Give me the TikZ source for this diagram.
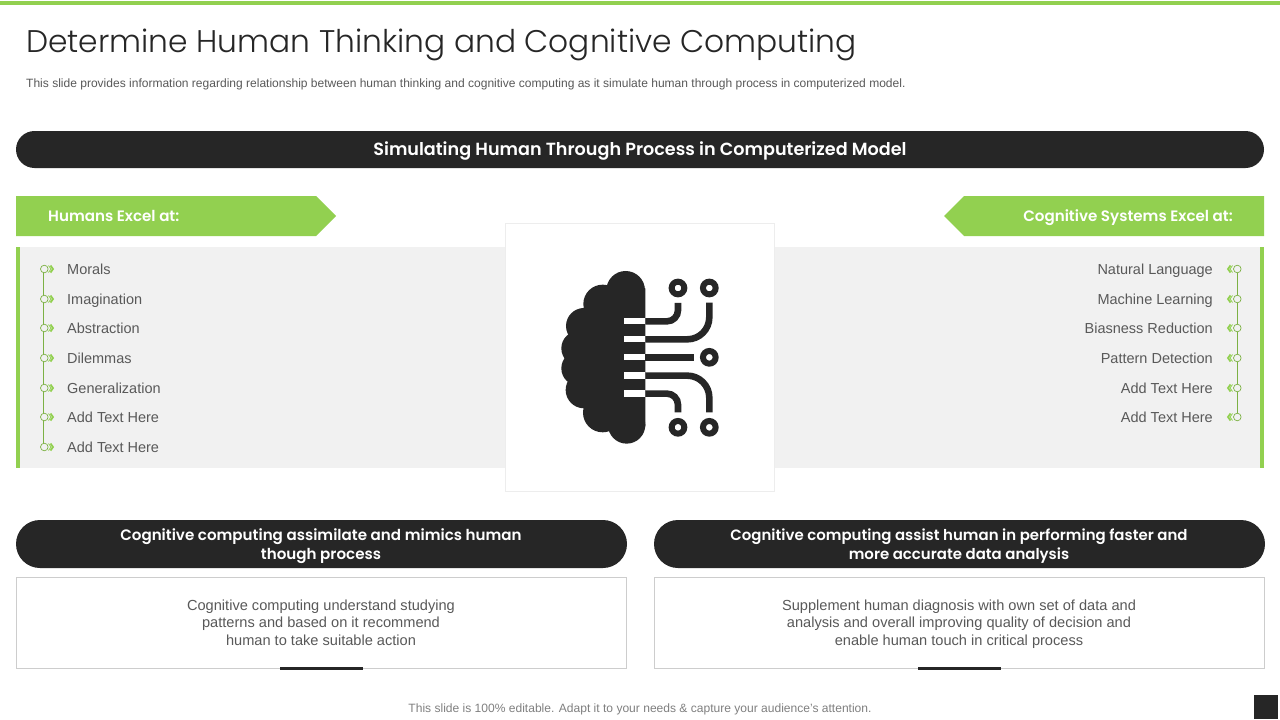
\documentclass[tikz,border=0pt]{standalone}
\usepackage{fontspec}
\setmainfont{Liberation Sans}
\newfontfamily\titlefont{Poppins Light}
\newfontfamily\headfont{Poppins SemiBold}
\definecolor{leaf}{RGB}{146,208,80}
\definecolor{ink}{RGB}{38,38,38}
\definecolor{panel}{RGB}{241,241,241}
\definecolor{body}{RGB}{89,89,89}
\definecolor{edge}{RGB}{205,205,205}
\definecolor{foot}{RGB}{128,128,128}
\newcommand{\ls}{\rule[-4pt]{0pt}{14pt}}
\tikzset{
  pill/.style={fill=ink,rounded corners=#1},
  headtext/.style={text=white,font=\headfont\fontsize{15.1}{19.4}\selectfont,align=center,inner sep=0pt},
  itemtext/.style={text=body,font=\fontsize{14.5}{17}\selectfont,inner sep=0pt},
  bodytext/.style={text=body,font=\fontsize{14.6}{17.7}\selectfont,align=center,inner sep=0pt},
  wire/.style={draw=ink,line width=6.6pt,rounded corners=11pt},
  pad/.style={draw=ink,line width=6pt,fill=white},
  spine/.style={draw=leaf!85!black,line width=0.8pt},
  dot/.style={draw=leaf!85!black,line width=0.7pt,fill=panel},
  chev/.style={draw=leaf,line width=#1,line cap=butt},
}
\newcommand{\rowL}[2]{%
  \draw[dot] (44.3,#1) circle (3.8);
  \draw[chev=0.8pt] (48.5,#1-3.5) -- (51,#1) -- (48.5,#1+3.5);
  \draw[chev=1.8pt] (50.5,#1-3.5) -- (53,#1) -- (50.5,#1+3.5);
  \node[itemtext,anchor=base west] (L#1) at (67,#1+5) {#2};}
\newcommand{\rowR}[2]{%
  \draw[dot] (1237.3,#1) circle (3.8);
  \draw[chev=0.8pt] (1232.5,#1-3.5) -- (1230,#1) -- (1232.5,#1+3.5);
  \draw[chev=1.8pt] (1230.5,#1-3.5) -- (1228,#1) -- (1230.5,#1+3.5);
  \node[itemtext,anchor=base east] (R#1) at (1213,#1+5) {#2};}
\begin{document}
\begin{tikzpicture}[x=1pt,y=-1pt]
\useasboundingbox (0,0) rectangle (1280,720);
\fill[white] (0,0) rectangle (1280,720);
\fill[leaf] (0,1) rectangle (1280,4.5);
\node[anchor=base west,inner sep=0pt,text=ink,font=\titlefont\fontsize{31.3}{38}\selectfont] (title) at (26,52) {Determine Human Thinking and Cognitive Computing};
\node[anchor=base west,inner sep=0pt,text=body,font=\fontsize{12.03}{14}\selectfont] (sub) at (26,87) {This slide provides information regarding relationship between human thinking and cognitive computing as it simulate human through process in computerized model.};
% main bar
\fill[pill=18.5pt] (16,131) rectangle (1264,168);
\node[headtext,anchor=base,font=\headfont\fontsize{17.6}{22}\selectfont] (main) at (640,155.5) {Simulating Human Through Process in Computerized Model};
% green banners
\fill[leaf] (16,196) -- (316,196) -- (336,216) -- (316,236) -- (16,236) -- cycle;
\fill[leaf] (1264,196) -- (964,196) -- (944,216) -- (964,236) -- (1264,236) -- cycle;
\node[headtext,anchor=base west] (hum) at (48,221.5) {Humans Excel at:};
\node[headtext,anchor=base east] (cog) at (1233,221.5) {Cognitive Systems Excel at:};
% panels
\fill[panel] (16,247) rectangle (1264,468);
\fill[leaf] (16,247) rectangle (20,468);
\fill[leaf] (1260,247) rectangle (1264,468);
\draw[spine] (43.7,269) -- (43.7,447);
\draw[spine] (1237.3,269) -- (1237.3,417);
\rowL{269}{Morals}
\rowL{299}{Imagination}
\rowL{328}{Abstraction}
\rowL{358}{Dilemmas}
\rowL{388}{Generalization}
\rowL{417}{Add Text Here}
\rowL{447}{Add Text Here}
\rowR{269}{Natural Language}
\rowR{299}{Machine Learning}
\rowR{328}{Biasness Reduction}
\rowR{358}{Pattern Detection}
\rowR{388}{Add Text Here}
\rowR{417}{Add Text Here}
% centre card
\fill[white,draw=black!7,line width=0.8pt] (505.5,223) rectangle (774.5,491);
% brain icon (zoom coordinates of the card)
\begin{scope}[shift={(500,220)},x=0.3333pt,y=-0.3333pt]
  \fill[ink] (377,211) circle (58);
  \fill[ink] (308,252) circle (58);
  \fill[ink] (252,318) circle (54);
  \fill[ink] (236,385) circle (52);
  \fill[ink] (236,445) circle (52);
  \fill[ink] (252,510) circle (55);
  \fill[ink] (308,578) circle (59);
  \fill[ink] (380,615) circle (56);
  \fill[ink] (436,205) -- (320,205) -- (230,340) -- (230,500) -- (320,620) -- (436,620) -- cycle;
  \foreach \yy in {304,358,412,467,521}
    \fill[white] (373,\yy-9.5) rectangle (436,\yy+9.5);
  \draw[wire] (436,304) -- (534,304) -- (534,249);
  \draw[wire,rounded corners=22pt] (436,358) -- (628,358) -- (628,248);
  \draw[wire,rounded corners=0pt] (436,412) -- (582,412);
  \draw[wire,rounded corners=22pt] (436,467) -- (628,467) -- (628,577);
  \draw[wire] (436,521) -- (534,521) -- (534,577);
  \foreach \px/\py in {534/204,628/204,628/412,534/622,628/622}
    \draw[pad] (\px,\py) circle (19);
\end{scope}
% lower pills
\fill[pill=24pt] (16,520) rectangle (627,568);
\fill[pill=24pt] (654,520) rectangle (1265,568);
\node[headtext] (pa) at (321,546) {\ls Cognitive computing assimilate and mimics human\\\ls though process};
\node[headtext,font=\headfont\fontsize{14.95}{19.4}\selectfont] (pb) at (959,546) {\ls Cognitive computing assist human in performing faster and\\\ls more accurate data analysis};
% lower boxes
\draw[edge,line width=0.8pt] (16.5,577.5) rectangle (626.5,668.5);
\draw[edge,line width=0.8pt] (654.5,577.5) rectangle (1264.5,668.5);
\fill[ink] (280,667) rectangle (363,670);
\fill[ink] (918,667) rectangle (1001,670);
\node[bodytext] (ba) at (321,624.5) {\ls Cognitive computing understand studying\\\ls patterns and based on it recommend\\\ls human to take suitable action};
\node[bodytext] (bb) at (959,624.5) {\ls Supplement human diagnosis with own set of data and\\\ls analysis and overall improving quality of decision and\\\ls enable human touch in critical process};
% footer
\node[anchor=base,inner sep=0pt,text=foot,font=\fontsize{12.05}{14}\selectfont] (foot) at (640,712.5) {This slide is 100\% editable. Adapt it to your needs \& capture your audience’s attention.};
\fill[ink] (1254,695) rectangle (1278,719);
\end{tikzpicture}
\end{document}
